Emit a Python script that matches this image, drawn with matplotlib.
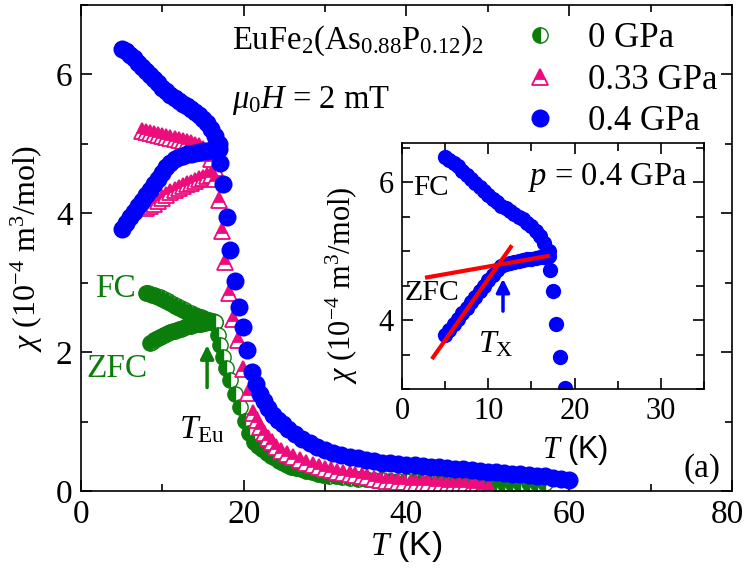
import numpy as np
import matplotlib
matplotlib.use("Agg")
import matplotlib.pyplot as plt
import matplotlib.transforms as mtransforms
from matplotlib.ticker import MultipleLocator

plt.rcParams['font.family'] = ['Liberation Serif', 'DejaVu Serif']
plt.rcParams['mathtext.fontset'] = 'custom'
plt.rcParams['mathtext.rm'] = 'Liberation Serif'
plt.rcParams['mathtext.it'] = 'Liberation Serif:italic'
plt.rcParams['axes.linewidth'] = 1.2

GREEN = '#0b7d0b'
PINK = '#ec0c7c'
BLUE = '#0000ff'
RED = '#ff0000'

# 0 GPa
g_fc_T = [8.0, 8.25, 8.5, 8.75, 9.0, 9.25, 9.5, 9.75, 10.0, 10.25, 10.5, 10.75, 11.0, 11.25, 11.5, 11.75,
          12.0, 12.25, 12.5, 12.75, 13.0, 13.25, 13.5, 13.75, 14.0, 14.25, 14.5, 14.75, 15.0, 15.25, 15.5,
          15.75, 16.0, 16.25, 16.5]
g_fc = [2.85, 2.85, 2.84, 2.83, 2.82, 2.81, 2.80, 2.79, 2.77, 2.76, 2.74, 2.73, 2.71, 2.69, 2.67, 2.66,
        2.64, 2.63, 2.61, 2.60, 2.58, 2.57, 2.56, 2.54, 2.53, 2.52, 2.51, 2.50, 2.49, 2.48, 2.47,
        2.46, 2.45, 2.45, 2.44]
g_zfc_T = [8.5, 8.75, 9.0, 9.25, 9.5, 9.75, 10.0, 10.25, 10.5, 10.75, 11.0, 11.25, 11.5, 11.75, 12.0, 12.25,
           12.5, 12.75, 13.0, 13.25, 13.5, 13.75, 14.0, 14.25, 14.5, 14.75, 15.0, 15.25, 15.5, 15.75, 16.0,
           16.25, 16.5,
           16.8, 17.1, 17.4, 17.8, 18.3, 18.9, 19.5, 20.1, 20.7, 21.3, 21.8, 22.3, 22.8, 23.3, 23.8, 24.3,
           24.8, 25.3, 25.8, 26.4, 27.0, 27.7, 28.4, 29.1, 29.8, 30.5, 31.3, 32.1, 33.0, 34.0, 35.0, 36.0,
           37.0, 38.0, 39.0, 40.0, 41.0, 42.0, 43.0, 44.0, 45.0, 46.0, 47.0, 48.0, 49.0, 50.0, 51.0, 52.0,
           53.0, 54.0, 55.0, 56.0, 57.0]
g_zfc = [2.13, 2.15, 2.17, 2.19, 2.20, 2.22, 2.23, 2.25, 2.26, 2.28, 2.29, 2.30, 2.31, 2.32, 2.33, 2.34,
         2.35, 2.36, 2.37, 2.38, 2.38, 2.39, 2.40, 2.40, 2.41, 2.41, 2.42, 2.42, 2.43, 2.43, 2.43,
         2.43, 2.43,
         2.24, 2.10, 1.93, 1.77, 1.60, 1.40, 1.21, 1.01, 0.83, 0.71, 0.65, 0.60, 0.55, 0.51, 0.47, 0.43,
         0.40, 0.37, 0.35, 0.33, 0.31, 0.29, 0.27, 0.25, 0.23, 0.22, 0.21, 0.20, 0.19, 0.18, 0.17, 0.16,
         0.16, 0.15, 0.15, 0.15, 0.14, 0.14, 0.14, 0.14, 0.13, 0.13, 0.13, 0.13, 0.12, 0.12, 0.12, 0.12,
         0.12, 0.11, 0.11, 0.11, 0.11]

# 0.33 GPa
m_fc_T = [7.5, 8, 8.5, 9, 9.5, 10, 10.5, 11, 11.5, 12, 12.5, 13, 13.5, 14, 14.5, 15, 15.5, 16, 16.5]
m_fc = [5.18, 5.17, 5.15, 5.14, 5.13, 5.11, 5.10, 5.08, 5.07, 5.06, 5.04, 5.03, 5.01, 4.99, 4.97, 4.93, 4.87, 4.78, 4.65]
m_zfc_T = [8, 8.5, 9, 9.5, 10, 10.5, 11, 11.5, 12, 12.5, 13, 13.5, 14, 14.5, 15, 15.5, 16, 16.5,
           17.0, 17.3, 17.7, 18.2, 18.7, 19.3, 19.9, 20.5, 21.2, 21.6, 22.0, 22.5, 23.0, 23.5, 24.0, 24.6,
           25.3, 26.1, 26.9, 27.7, 28.5, 29.2, 30.0, 30.7, 31.5, 32.2, 33.0, 33.7, 34.5, 35.2, 36.0, 36.7,
           37.5, 38.2, 39.0, 39.7, 40.5, 41.2, 42.0, 42.7, 43.5, 44.2, 45.0, 45.7, 46.5, 47.2, 48.0, 48.6,
           49.3, 50.2]
m_zfc = [4.07, 4.10, 4.14, 4.18, 4.22, 4.26, 4.30, 4.33, 4.36, 4.39, 4.42, 4.44, 4.47, 4.49, 4.51, 4.53, 4.55, 4.50,
         4.19, 3.75, 3.30, 2.85, 2.48, 2.17, 1.75, 1.41, 1.13, 1.02, 0.92, 0.84, 0.76, 0.70, 0.64, 0.58,
         0.53, 0.49, 0.45, 0.41, 0.37, 0.35, 0.32, 0.30, 0.28, 0.26, 0.24, 0.23, 0.21, 0.20, 0.18, 0.16,
         0.15, 0.14, 0.13, 0.13, 0.12, 0.12, 0.11, 0.11, 0.10, 0.10, 0.09, 0.09, 0.08, 0.08, 0.07, 0.07,
         0.06, 0.05]

# 0.4 GPa
b_fc_T = [5, 5.5, 6, 6.5, 7, 7.5, 8, 8.5, 9, 9.5, 10, 10.5, 11, 11.5, 12, 12.5, 13, 13.5, 14, 14.5, 15, 15.5, 16, 16.5, 17]
b_fc = [6.37, 6.33, 6.28, 6.23, 6.17, 6.11, 6.05, 5.99, 5.93, 5.87, 5.81, 5.76, 5.71, 5.66, 5.62, 5.58, 5.54, 5.50,
        5.46, 5.41, 5.36, 5.30, 5.22, 5.12, 5.00]
b_zfc_T = [5, 5.5, 6, 6.5, 7, 7.5, 8, 8.5, 9, 9.5, 10, 10.5, 11, 11.5, 12, 12.5, 13, 13.5, 14, 14.5, 15, 15.5, 16, 16.5, 17,
           17.1, 17.5, 17.9, 18.3, 18.9, 19.4, 19.9, 20.4, 21.0, 21.5, 22.0, 22.5, 23.0, 23.6, 24.2, 24.8, 25.5,
           26.3, 27.2, 28.1, 29.0, 30, 31, 32, 33, 34, 35, 36, 37, 38, 39, 40, 41, 42, 43, 44, 45, 46, 47, 48,
           49, 50, 51, 52, 53, 54, 55, 56, 57, 58, 59, 60]
b_zfc = [3.78, 3.86, 3.94, 4.02, 4.10, 4.18, 4.26, 4.34, 4.42, 4.50, 4.58, 4.66, 4.73, 4.78, 4.81, 4.83, 4.85, 4.86,
         4.87, 4.88, 4.89, 4.90, 4.91, 4.92, 4.93,
         4.72, 4.42, 3.94, 3.47, 3.02, 2.65, 2.36, 2.03, 1.72, 1.54, 1.40, 1.29, 1.19, 1.10, 1.02, 0.96, 0.89,
         0.82, 0.75, 0.69, 0.64, 0.59, 0.55, 0.52, 0.49, 0.47, 0.45, 0.43, 0.41, 0.40, 0.39, 0.38, 0.37, 0.36,
         0.35, 0.34, 0.33, 0.32, 0.31, 0.30, 0.29, 0.28, 0.27, 0.26, 0.25, 0.24, 0.23, 0.22, 0.21, 0.19, 0.18, 0.16]

# linear guides in the inset
fit1_T = [2.9, 16.9]
fit1 = [4.62, 4.93]
fit2_T = [3.6, 12.6]
fit2 = [3.46, 5.06]


def half_markers(ax, xs, ys, label=None, **kw):
    # one artist per point so each half-filled symbol overlaps the previous one
    # (a single Line2D draws all the alternate halves on top of everything)
    h = None
    for i, (x, y) in enumerate(zip(xs, ys)):
        line, = ax.plot([x], [y], ls='none', label=label if i == 0 else None, **kw)
        if i == 0:
            h = line
    return h


fig = plt.figure(figsize=(7.47, 5.72), dpi=100)
ax = fig.add_axes([0.1084, 0.1416, 0.8715, 0.8497])

gkw = dict(marker='o', ms=11, color=GREEN, mec=GREEN, mfc=GREEN,
           fillstyle='left', markerfacecoloralt='white', mew=1.0)
half_markers(ax, g_fc_T, g_fc, label='0 GPa', **gkw)
half_markers(ax, g_zfc_T, g_zfc, **gkw)

mkw = dict(marker='^', ms=12, color=PINK, mec=PINK, mfc=PINK,
           fillstyle='top', markerfacecoloralt='white', mew=1.3)
half_markers(ax, m_fc_T, m_fc, label='0.33 GPa', **mkw)
half_markers(ax, m_zfc_T, m_zfc, **mkw)

bkw = dict(ls='none', marker='o', ms=13, color=BLUE, mec=BLUE, mew=0)
ax.plot(b_fc_T, b_fc, label='0.4 GPa', **bkw)
ax.plot(b_zfc_T, b_zfc, **bkw)

ax.set_xlim(0, 80)
ax.set_ylim(0, 7)
ax.xaxis.set_major_locator(MultipleLocator(20))
ax.xaxis.set_minor_locator(MultipleLocator(10))
ax.yaxis.set_major_locator(MultipleLocator(2))
ax.yaxis.set_minor_locator(MultipleLocator(1))
ax.tick_params(which='both', direction='in', top=True, right=True, width=1.2, labelsize=24)
ax.tick_params(which='major', length=8, pad=6)
ax.tick_params(which='minor', length=5)

ax.text(0.5, -0.132, r'$T$ (K)', transform=ax.transAxes, fontsize=24,
        family=['Liberation Sans'], ha='center', va='baseline')
ax.set_ylabel(r'$\chi$ (10$^{-4}$ m$^3$/mol)', fontsize=23)
ax.yaxis.set_label_coords(-0.055, 0.5)

ax.legend(loc='upper left', bbox_to_anchor=(0.667, 0.965), frameon=False, fontsize=25,
          borderpad=0, borderaxespad=0, labelspacing=0.25, handletextpad=0.7, handlelength=1.4)

ax.text(0.232, 0.909, r'EuFe$_2$(As$_{0.88}$P$_{0.12}$)$_2$', transform=ax.transAxes,
        fontsize=23.5, va='baseline', ha='left')
ax.text(0.232, 0.788, r'$\mu_0H$ = 2 mT', transform=ax.transAxes,
        fontsize=23.5, va='baseline', ha='left')

ax.text(0.021, 0.399, 'FC', color=GREEN, transform=ax.transAxes, fontsize=24, va='baseline')
ax.text(0.009, 0.235, 'ZFC', color=GREEN, transform=ax.transAxes, fontsize=24, va='baseline')
ax.annotate('', xy=(15.5, 2.14), xytext=(15.5, 1.45),
            arrowprops=dict(arrowstyle='-|>', color=GREEN, lw=2.5, mutation_scale=20))
ax.text(12.1, 0.76, r'$T_{\rm Eu}$', fontsize=24, va='baseline')
ax.text(0.982, 0.029, '(a)', transform=ax.transAxes, fontsize=24, ha='right', va='baseline')

# inset
ins = fig.add_axes([0.5382, 0.3199, 0.4043, 0.4301])
ins.plot(b_fc_T, b_fc, ls='none', marker='o', ms=11, color=BLUE, mew=0)
ins.plot(b_zfc_T, b_zfc, ls='none', marker='o', ms=11, color=BLUE, mew=0)
ins.plot(fit1_T, fit1, color=RED, lw=3)
ins.plot(fit2_T, fit2, color=RED, lw=3)
ins.annotate('', xy=(11.7, 4.64), xytext=(11.7, 4.09),
             arrowprops=dict(arrowstyle='-|>', color=BLUE, lw=2.5, mutation_scale=20))
ins.set_xlim(0, 35)
ins.set_ylim(3.0, 6.57)
ins.xaxis.set_major_locator(MultipleLocator(10))
ins.xaxis.set_minor_locator(MultipleLocator(5))
ins.yaxis.set_major_locator(MultipleLocator(2))
ins.yaxis.set_minor_locator(MultipleLocator(0.5))
ins.tick_params(which='both', direction='in', top=True, right=True, width=1.2, labelsize=22)
ins.tick_params(which='major', length=8, pad=6)
ins.tick_params(which='minor', length=6)
ins.text(0.573, -0.28, r'$T$ (K)', transform=ins.transAxes, fontsize=22,
         family=['Liberation Sans'], ha='center', va='baseline')
ins.set_ylabel(r'$\chi$ (10$^{-4}$ m$^3$/mol)', fontsize=22)
ins.yaxis.set_label_coords(-0.14, 0.42)
ins.text(0.944, 0.829, r'$p$ = 0.4 GPa', transform=ins.transAxes, fontsize=23.5, ha='right', va='baseline')
ins.text(0.036, 0.789, 'FC', transform=ins.transAxes, fontsize=21, va='baseline')
ins.text(0.01, 0.362, 'ZFC', transform=ins.transAxes, fontsize=21.5, va='baseline')
ins.text(0.25, 0.15, r'$T_{\rm X}$', transform=ins.transAxes, fontsize=23, va='baseline')

# pull the "80" label a few pixels in so it is not clipped by the canvas edge
fig.canvas.draw()
shift = mtransforms.ScaledTranslation(-0.05, 0, fig.dpi_scale_trans)
for tick in ax.xaxis.get_major_ticks():
    if abs(tick.get_loc() - 80) < 1e-6:
        tick.label1.set_transform(tick.label1.get_transform() + shift)

fig.savefig('out.png', dpi=100)
